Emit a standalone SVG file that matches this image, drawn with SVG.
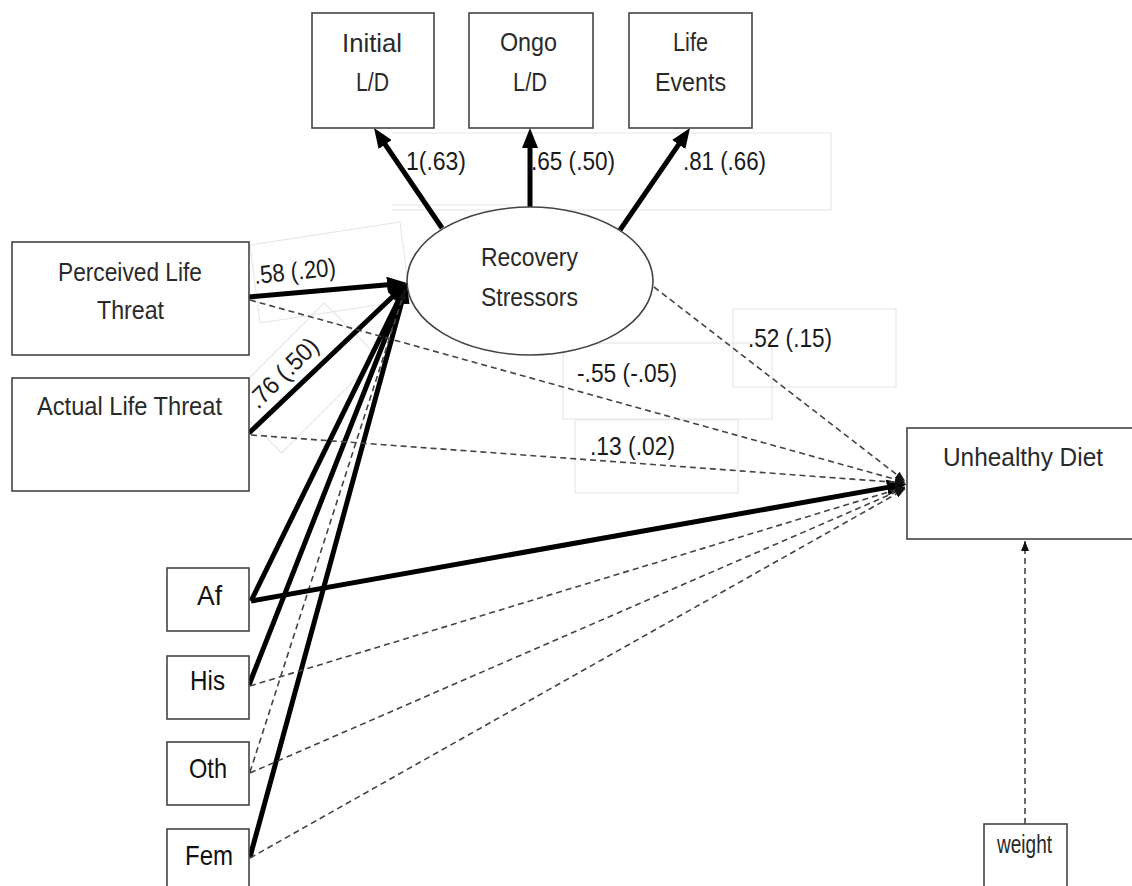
<svg xmlns="http://www.w3.org/2000/svg" width="1132" height="886" viewBox="0 0 1132 886">
<style>
.box{fill:#fff;stroke:#444;stroke-width:1.6}
.faint{fill:none;stroke:#e4e4e4;stroke-width:1}
.t{font-family:"Liberation Sans",Arial,sans-serif;font-size:26px;fill:#2a2a2a}
.n{font-family:"Liberation Sans",Arial,sans-serif;font-size:25px;fill:#1a1a1a}
.s{font-family:"Liberation Sans",Arial,sans-serif;font-size:28px;fill:#111}
.thick{stroke:#000;stroke-width:5;fill:none;marker-end:url(#big)}
.dash{stroke:#444;stroke-width:1.6;stroke-dasharray:6 4;fill:none;marker-end:url(#small)}
</style>
<defs>
<marker id="big" markerUnits="userSpaceOnUse" viewBox="0 0 20 16" markerWidth="20" markerHeight="16" refX="12" refY="8" orient="auto">
<path d="M0,0 L20,8 L0,16 z" fill="#000"/>
</marker>
<marker id="small" markerUnits="userSpaceOnUse" viewBox="0 0 10 8" markerWidth="10" markerHeight="8" refX="10" refY="4" orient="auto">
<path d="M0,0 L10,4 L0,8 z" fill="#111"/>
</marker>
</defs>
<rect width="1132" height="886" fill="#fff"/>

<g id="label-boxes">
<path class="faint" d="M392,133 H831 V210 H392 M392,205 H510"/>
<rect class="faint" x="733" y="309" width="163" height="78"/>
<rect class="faint" x="563" y="343" width="209" height="76"/>
<rect class="faint" x="575" y="420" width="163" height="73"/>
<polygon class="faint" points="250,245 400,222 410,300 260,323"/>
<rect class="faint" x="-68" y="-38" width="136" height="76" transform="translate(303,378) rotate(-45)"/>
</g>

<g id="connectors">
<line class="thick" x1="442" y1="228" x2="378.5" y2="134.6"/>
<line class="thick" x1="530" y1="208" x2="530" y2="136"/>
<line class="thick" x1="620" y1="230" x2="685.5" y2="134.6"/>
<line class="thick" x1="249" y1="297" x2="399" y2="283.7"/>
<line class="thick" x1="249" y1="433" x2="401.2" y2="288.5"/>
<line class="thick" x1="251" y1="601" x2="403.5" y2="290.2"/>
<line class="thick" x1="249" y1="685" x2="404.1" y2="290.4"/>
<line class="thick" x1="250" y1="857" x2="404.9" y2="290.7"/>
<line class="dash" x1="250" y1="772" x2="405" y2="290"/>
<line class="thick" x1="251" y1="601" x2="899" y2="485.4"/>
<line class="dash" x1="250" y1="300" x2="905" y2="482"/>
<line class="dash" x1="251" y1="435" x2="905" y2="483"/>
<line class="dash" x1="654" y1="287" x2="905" y2="481"/>
<line class="dash" x1="250" y1="686" x2="905" y2="487"/>
<line class="dash" x1="250" y1="773" x2="905" y2="488"/>
<line class="dash" x1="250" y1="858" x2="905" y2="489"/>
<line class="dash" x1="1025" y1="824" x2="1025" y2="541"/>
</g>

<g id="edge-labels">
<text class="n" x="406" y="170" textLength="60" lengthAdjust="spacingAndGlyphs">1(.63)</text>
<text class="n" x="531" y="170" textLength="84" lengthAdjust="spacingAndGlyphs">.65 (.50)</text>
<text class="n" x="683" y="170" textLength="83" lengthAdjust="spacingAndGlyphs">.81 (.66)</text>
<text class="n" x="255" y="284" textLength="82" lengthAdjust="spacingAndGlyphs" transform="rotate(-6 255 284)">.58 (.20)</text>
<text class="n" x="258" y="410" textLength="88" lengthAdjust="spacingAndGlyphs" transform="rotate(-45 258 410)">.76 (.50)</text>
<text class="n" x="748" y="347" textLength="84" lengthAdjust="spacingAndGlyphs">.52 (.15)</text>
<text class="n" x="577" y="382" textLength="100" lengthAdjust="spacingAndGlyphs">-.55 (-.05)</text>
<text class="n" x="590" y="455" textLength="85" lengthAdjust="spacingAndGlyphs">.13 (.02)</text>
</g>

<g id="initial-ld">
<rect class="box" x="312" y="13" width="122" height="115"/>
<text class="t" x="342" y="52" textLength="60" lengthAdjust="spacingAndGlyphs">Initial</text>
<text class="t" x="356" y="91" textLength="33" lengthAdjust="spacingAndGlyphs">L/D</text>
</g>
<g id="ongo-ld">
<rect class="box" x="469" y="13" width="124" height="115"/>
<text class="t" x="500" y="51" textLength="57" lengthAdjust="spacingAndGlyphs">Ongo</text>
<text class="t" x="513" y="91" textLength="34" lengthAdjust="spacingAndGlyphs">L/D</text>
</g>
<g id="life-events">
<rect class="box" x="629" y="13" width="123" height="115"/>
<text class="t" x="673" y="51" textLength="35" lengthAdjust="spacingAndGlyphs">Life</text>
<text class="t" x="655" y="91" textLength="71" lengthAdjust="spacingAndGlyphs">Events</text>
</g>
<g id="recovery-stressors">
<ellipse cx="530" cy="281" rx="123" ry="74" fill="#fff" stroke="#444" stroke-width="1.6"/>
<text class="t" x="481" y="266" textLength="97" lengthAdjust="spacingAndGlyphs">Recovery</text>
<text class="t" x="481" y="306" textLength="97" lengthAdjust="spacingAndGlyphs">Stressors</text>
</g>
<g id="perceived-life-threat">
<rect class="box" x="12" y="242" width="237" height="113"/>
<text class="t" x="58" y="281" textLength="144" lengthAdjust="spacingAndGlyphs">Perceived Life</text>
<text class="t" x="97" y="319" textLength="67" lengthAdjust="spacingAndGlyphs">Threat</text>
</g>
<g id="actual-life-threat">
<rect class="box" x="12" y="378" width="237" height="113"/>
<text class="t" x="37" y="415" textLength="185" lengthAdjust="spacingAndGlyphs">Actual Life Threat</text>
</g>
<g id="af">
<rect class="box" x="167" y="568" width="82" height="63"/>
<text class="s" x="197" y="605" textLength="25" lengthAdjust="spacingAndGlyphs">Af</text>
</g>
<g id="his">
<rect class="box" x="167" y="656" width="82" height="63"/>
<text class="s" x="190" y="690" textLength="35" lengthAdjust="spacingAndGlyphs">His</text>
</g>
<g id="oth">
<rect class="box" x="167" y="742" width="82" height="63"/>
<text class="s" x="189" y="778" textLength="38" lengthAdjust="spacingAndGlyphs">Oth</text>
</g>
<g id="fem">
<rect class="box" x="167" y="829" width="82" height="70"/>
<text class="s" x="185" y="865" textLength="48" lengthAdjust="spacingAndGlyphs">Fem</text>
</g>
<g id="unhealthy-diet">
<rect class="box" x="907" y="428" width="240" height="111"/>
<text class="t" x="943" y="466" textLength="160" lengthAdjust="spacingAndGlyphs">Unhealthy Diet</text>
</g>
<g id="weight">
<rect class="box" x="984" y="824" width="83" height="75"/>
<text class="t" x="997" y="853" font-size="19" textLength="55" lengthAdjust="spacingAndGlyphs">weight</text>
</g>
</svg>
